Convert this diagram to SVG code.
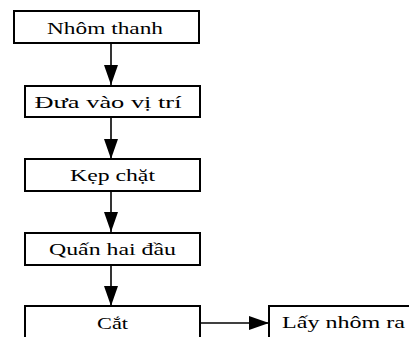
<svg xmlns="http://www.w3.org/2000/svg" width="409" height="337" viewBox="0 0 409 337">
<style>
.box{fill:#fff;stroke:#000;stroke-width:2}
.t{font-family:"Liberation Serif","Times New Roman",serif;font-size:17px;fill:#000;text-anchor:middle}
.c{stroke:#000;stroke-width:1.6;fill:none}
</style>
<defs>
<marker id="ah" viewBox="0 0 20 14" refX="20" refY="7" markerWidth="20" markerHeight="14" markerUnits="userSpaceOnUse" orient="auto">
<path d="M0,0 L20,7 L0,14 Z" fill="#000"/>
</marker>
</defs>
<rect width="409" height="337" fill="#fff"/>
<g id="connectors">
<line class="c" x1="111" y1="43" x2="111" y2="85" marker-end="url(#ah)"/>
<line class="c" x1="111" y1="117" x2="111" y2="159" marker-end="url(#ah)"/>
<line class="c" x1="111" y1="191" x2="111" y2="232" marker-end="url(#ah)"/>
<line class="c" x1="111" y1="265" x2="111" y2="306" marker-end="url(#ah)"/>
<line class="c" x1="200" y1="323" x2="269" y2="323" marker-end="url(#ah)"/>
</g>
<g id="n1"><rect class="box" x="14" y="11" width="185" height="32"/><text class="t" x="105" y="34" textLength="116" lengthAdjust="spacingAndGlyphs">Nhôm thanh</text></g>
<g id="n2"><rect class="box" x="25" y="86" width="175" height="31"/><text class="t" x="108" y="108" textLength="147" lengthAdjust="spacingAndGlyphs">Đưa vào vị trí</text></g>
<g id="n3"><rect class="box" x="25" y="159" width="175" height="32"/><text class="t" x="112.5" y="181" textLength="85" lengthAdjust="spacingAndGlyphs">Kẹp chặt</text></g>
<g id="n4"><rect class="box" x="25" y="233" width="175" height="32"/><text class="t" x="112.5" y="255" textLength="127" lengthAdjust="spacingAndGlyphs">Quấn hai đầu</text></g>
<g id="n5"><rect class="box" x="25" y="306" width="175" height="40"/><text class="t" x="112.5" y="329" textLength="31" lengthAdjust="spacingAndGlyphs">Cắt</text></g>
<g id="n6"><rect class="box" x="269" y="306" width="150" height="40"/><text class="t" x="343.5" y="328" textLength="123" lengthAdjust="spacingAndGlyphs">Lấy nhôm ra</text></g>
</svg>
